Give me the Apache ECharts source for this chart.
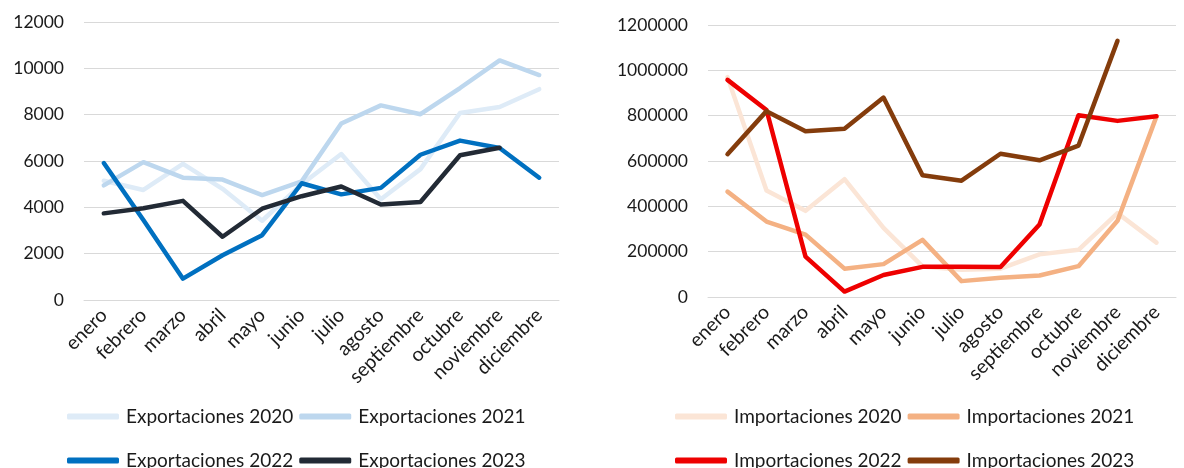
<!DOCTYPE html>
<html>
<head>
<meta charset="utf-8">
<script src="https://cdn.jsdelivr.net/npm/echarts@6/dist/echarts.min.js"></script>
<style>
html,body{margin:0;padding:0;background:#fff;}
#c{width:1184px;height:468px;}
</style>
</head>
<body>
<div id="c"></div>
<script>
const months = ['enero','febrero','marzo','abril','mayo','junio','julio','agosto','septiembre','octubre','noviembre','diciembre'];

const exp2020 = [5150, 4750, 5880, 4800, 3420, 5000, 6300, 4350, 5650, 8070, 8330, 9100];
const exp2021 = [4950, 5950, 5280, 5200, 4530, 5120, 7620, 8400, 8020, 9150, 10340, 9710];
const exp2022 = [5910, 3450, 920, 1930, 2800, 5040, 4560, 4840, 6270, 6880, 6560, 5280];
const exp2023 = [3740, 3960, 4280, 2730, 3940, 4480, 4900, 4120, 4230, 6250, 6570, null];

const imp2020 = [970000, 470000, 380000, 520000, 305000, 135000, 120000, 125000, 188000, 208000, 370000, 240000];
const imp2021 = [465000, 333000, 275000, 125000, 145000, 252000, 70000, 85000, 95000, 136000, 336000, 797000];
const imp2022 = [958000, 825000, 178000, 24000, 97000, 133000, 134000, 132000, 320000, 802000, 777000, 797000];
const imp2023 = [630000, 820000, 731000, 742000, 880000, 537000, 513000, 632000, 603000, 668000, 1130000, null];

const expTicks = {min: 0, max: 12000, interval: 2000};
const impTicks = {min: 0, max: 1200000, interval: 200000};

const FONT = 'Lato';
const TXT = '#1a1a1a';
const GRID = '#D9D9D9';

function xAxis(idx){
  return {
    type: 'category', gridIndex: idx, data: months, boundaryGap: true,
    axisLine: {show: true, lineStyle: {color: GRID, width: 1}},
    axisTick: {show: false},
    axisLabel: {interval: 0, rotate: 45, color: TXT, fontFamily: FONT, fontSize: 19.5, margin: 12}
  };
}
function yAxis(idx, t){
  return {
    type: 'value', gridIndex: idx, min: t.min, max: t.max, interval: t.interval,
    axisLine: {show: false}, axisTick: {show: false},
    splitLine: {lineStyle: {color: GRID, width: 1}},
    axisLabel: {color: TXT, fontFamily: FONT, fontSize: 17.5, margin: 20,
      formatter: function(v){ return String(v); }}
  };
}
function line(name, data, color, idx){
  return {
    name: name, type: 'line', data: data, xAxisIndex: idx, yAxisIndex: idx,
    showSymbol: false, symbol: 'none', connectNulls: false,
    lineStyle: {color: color, width: 4.5, cap: 'round', join: 'round'},
    itemStyle: {color: color},
    emphasis: {disabled: true},
    z: 2
  };
}
function legend(names, left, top){
  return {
    data: names, left: left, top: top, orient: 'horizontal',
    icon: 'roundRect', itemWidth: 52, itemHeight: 6, itemGap: 6,
    textStyle: {color: TXT, fontFamily: FONT, fontSize: 19, padding: [0,0,0,2]}
  };
}

const chart = echarts.init(document.getElementById('c'), null, {renderer: 'canvas'});
chart.setOption({
  animation: false,
  backgroundColor: '#fff',
  grid: [
    {left: 84, top: 22, width: 475, height: 278, containLabel: false},
    {left: 708, top: 25, width: 468, height: 272, containLabel: false}
  ],
  xAxis: [xAxis(0), xAxis(1)],
  yAxis: [yAxis(0, expTicks), yAxis(1, impTicks)],
  legend: [
    legend(['Exportaciones 2020','Exportaciones 2021'], 62, 402),
    legend(['Exportaciones 2022','Exportaciones 2023'], 62, 446),
    legend(['Importaciones 2020','Importaciones 2021'], 670, 402),
    legend(['Importaciones 2022','Importaciones 2023'], 670, 446)
  ],
  series: [
    line('Exportaciones 2020', exp2020, '#DEEBF7', 0),
    line('Exportaciones 2021', exp2021, '#BDD7EE', 0),
    line('Exportaciones 2022', exp2022, '#0070C0', 0),
    line('Exportaciones 2023', exp2023, '#222A35', 0),
    line('Importaciones 2020', imp2020, '#FBE5D6', 1),
    line('Importaciones 2021', imp2021, '#F4B183', 1),
    line('Importaciones 2022', imp2022, '#EE0000', 1),
    line('Importaciones 2023', imp2023, '#843C0C', 1)
  ]
});
</script>
</body>
</html>
